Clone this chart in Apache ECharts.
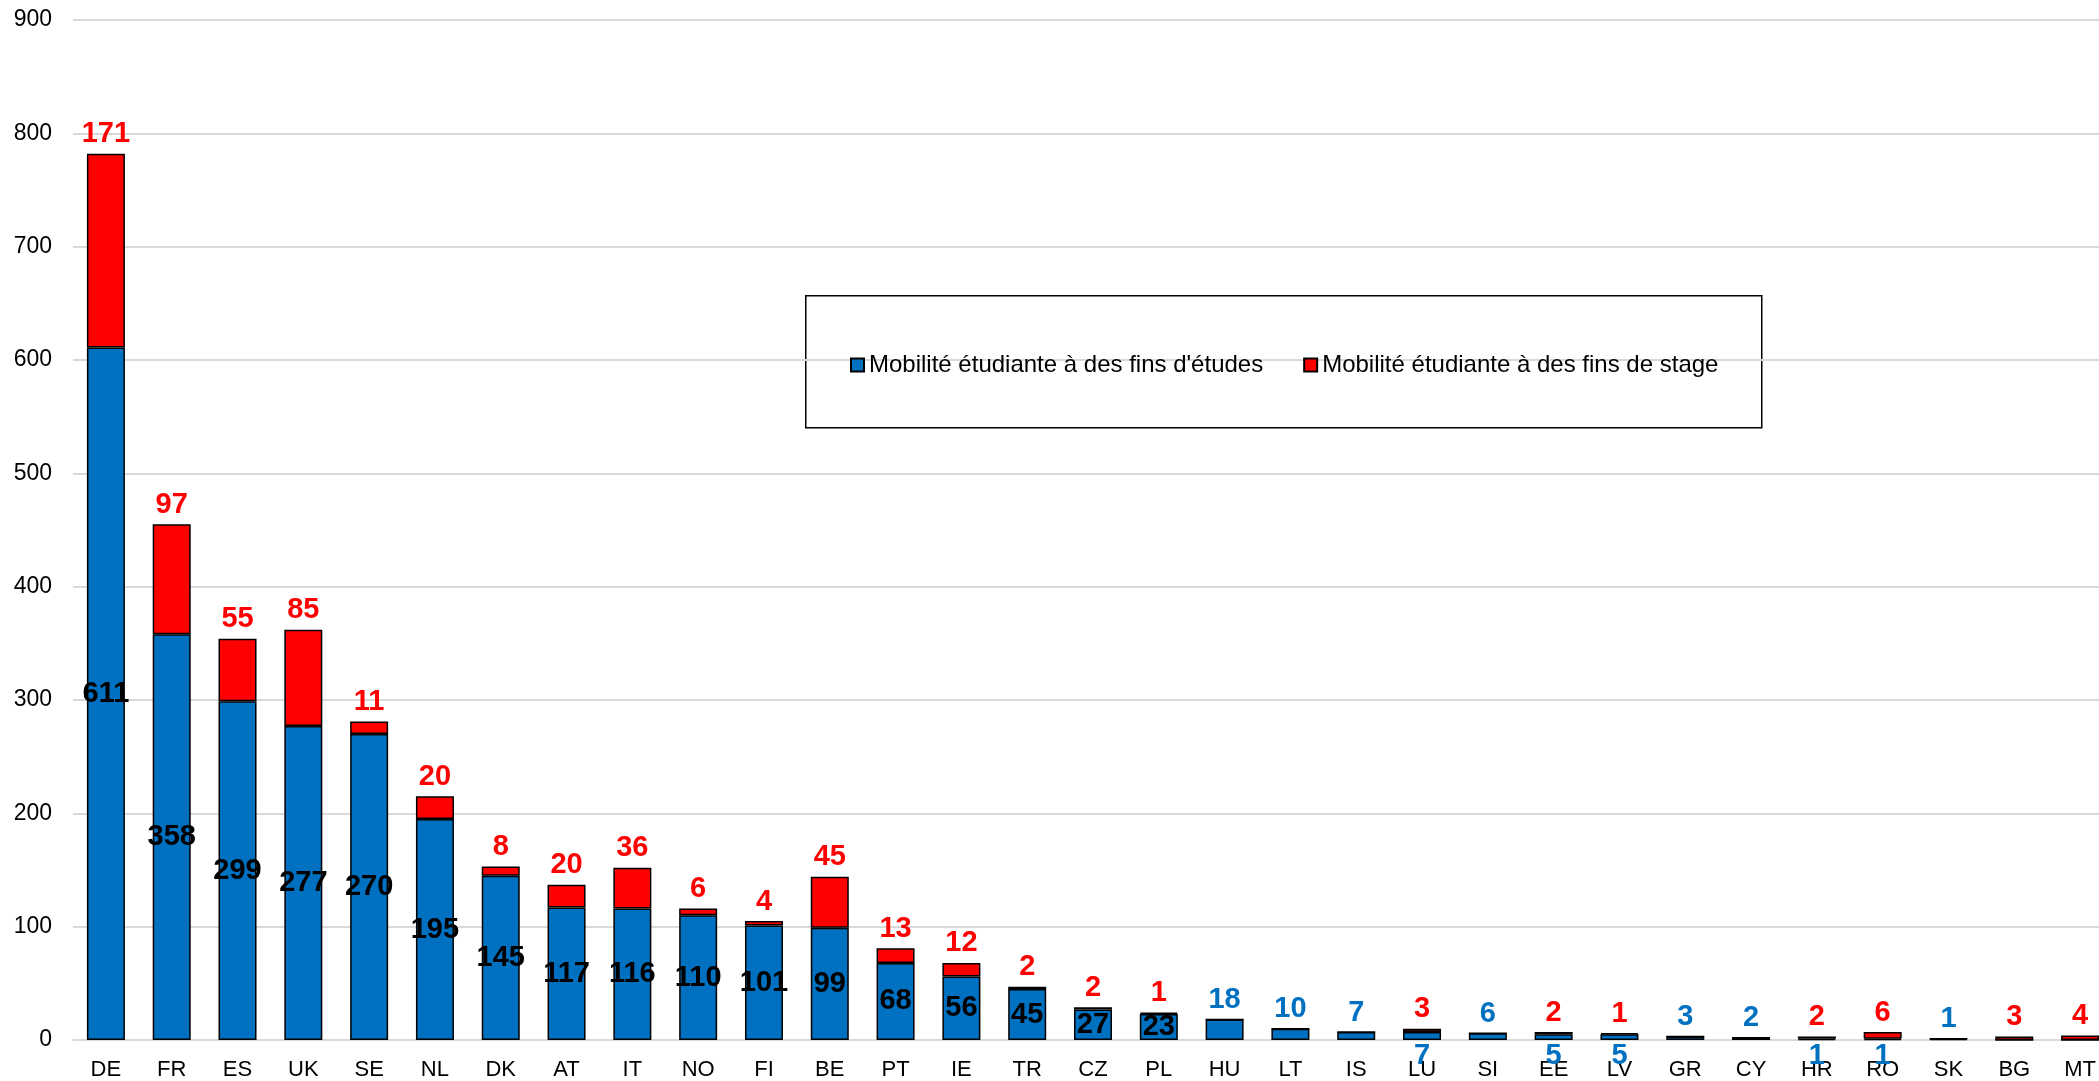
<!DOCTYPE html>
<html>
<head>
<meta charset="utf-8">
<script src="https://cdn.jsdelivr.net/npm/echarts@6/dist/echarts.min.js"></script>
<style>
html,body{margin:0;padding:0;background:#fff;overflow:hidden;width:2099px;height:1081px;}
#chart{width:2113px;height:1081px;}
</style>
</head>
<body>
<div id="chart"></div>
<script>
var categories = ['DE','FR','ES','UK','SE','NL','DK','AT','IT','NO','FI','BE','PT','IE','TR','CZ','PL','HU','LT','IS','LU','SI','EE','LV','GR','CY','HR','RO','SK','BG','MT'];
var studyValues = [611,358,299,277,270,195,145,117,116,110,101,99,68,56,45,27,23,18,10,7,7,6,5,5,3,2,1,1,1,0,0];
var stageValues = [171,97,55,85,11,20,8,20,36,6,4,45,13,12,2,2,1,0,0,0,3,0,2,1,0,0,2,6,0,3,4];
var yTicks = [0,100,200,300,400,500,600,700,800,900];
var seriesNames = ["Mobilité étudiante à des fins d'études", "Mobilité étudiante à des fins de stage"];

var BLUE = '#0070C0', RED = '#FF0000';
var FONT = "'Liberation Sans', Arial, sans-serif";

var studyData = studyValues.map(function (v, i) {
  var lbl;
  if (v === 0) {
    lbl = { show: false };
  } else if (v >= 20) {
    lbl = { show: true, position: 'inside', color: '#000' };
  } else if (stageValues[i] > 0) {
    lbl = { show: true, position: 'bottom', distance: 1, color: BLUE };
  } else {
    lbl = { show: true, position: 'top', color: BLUE };
  }
  return { value: v, label: lbl };
});

var stageData = stageValues.map(function (v) {
  return { value: v, label: { show: v > 0 } };
});

var chart = echarts.init(document.getElementById('chart'), null, { renderer: 'canvas' });
chart.setOption({
  animation: false,
  backgroundColor: '#fff',
  textStyle: { fontFamily: FONT },
  grid: { left: 73, right: 0, top: 20, bottom: 41, containLabel: false },
  legend: {
    left: 845, top: 348,
    itemWidth: 13, itemHeight: 13, itemGap: 40,
    icon: 'rect',
    textStyle: { fontSize: 24, color: '#000', fontFamily: FONT },
    data: seriesNames
  },
  graphic: [{
    type: 'rect', left: 805, top: 295, z: 0,
    shape: { width: 956, height: 132 },
    style: { fill: '#fff', stroke: '#000', lineWidth: 1.5 }
  }],
  xAxis: {
    type: 'category',
    data: categories,
    axisTick: { show: false },
    axisLine: { lineStyle: { color: '#d9d9d9', width: 2 } },
    axisLabel: { color: '#000', fontSize: 22, margin: 19, interval: 0, fontFamily: FONT }
  },
  yAxis: {
    type: 'value',
    min: 0, max: 900, interval: 100,
    axisLine: { show: false },
    axisTick: { show: false },
    splitLine: { lineStyle: { color: '#d9d9d9', width: 2 } },
    axisLabel: {
      color: '#000', fontSize: 23, margin: 21, fontFamily: FONT,
      formatter: function (v) { return yTicks.indexOf(v) >= 0 ? String(v) : ''; }
    }
  },
  series: [{
    name: seriesNames[0],
    type: 'bar',
    stack: 'total',
    barWidth: 38,
    itemStyle: { color: BLUE, borderColor: '#000', borderWidth: 1.5 },
    label: { fontSize: 29, fontWeight: 'bold', fontFamily: FONT },
    data: studyData,
    z: 3
  }, {
    name: seriesNames[1],
    type: 'bar',
    stack: 'total',
    barWidth: 38,
    itemStyle: { color: RED, borderColor: '#000', borderWidth: 1.5 },
    label: { position: 'top', color: RED, fontSize: 29, fontWeight: 'bold', fontFamily: FONT },
    data: stageData,
    z: 3
  }]
});
</script>
</body>
</html>
